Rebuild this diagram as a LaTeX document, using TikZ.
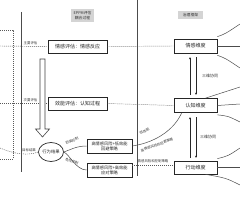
\documentclass[tikz,border=0pt]{standalone}
\usepackage{fontspec}
\setmainfont{Noto Sans CJK SC}
\usetikzlibrary{arrows.meta,shapes.geometric}
\begin{document}
\begin{tikzpicture}[x=1pt,y=-1pt,
  box/.style={draw=black!85, line width=0.7pt, fill=white, inner sep=0pt, align=center, text=black!85, font=\fontsize{5}{5.6}\selectfont},
  lab/.style={font=\fontsize{3.4}{3.8}\selectfont, text=black!80, inner sep=0.3pt},
  hdr/.style={fill=black!17, font=\fontsize{3.8}{4.8}\selectfont, inner sep=1pt, align=center, text=black!80},
  dsh/.style={draw=black!65, dash pattern=on 1pt off 1pt, line width=0.45pt},
  ln/.style={draw=black!70, line width=0.5pt},
  arr/.style={draw=black!85, line width=0.5pt, -{Stealth[length=2.4pt,width=2pt]}}]
\useasboundingbox (0,0) rectangle (240,200);
% frame lines
\draw[ln] (21,12) -- (21,172);
\draw[ln] (137,0) -- (137,176);
\draw[dsh] (0,30) -- (13,30) -- (13,159) -- (0,159);
% headers
\node[hdr, minimum width=23pt, minimum height=13pt] (h1) at (82.5,15.5) {EPPM评估\\耦合过程};
\node[hdr, minimum width=25pt, minimum height=8pt] (h2) at (190.5,15) {治理框架};
% boxes
\node[box, minimum width=59pt, minimum height=13pt] (e1) at (77.5,46.5) {情感评估：情感反应};
\node[box, minimum width=59pt, minimum height=13pt] (e2) at (77.5,103.5) {效能评估：认知过程};
\node[box, minimum width=43pt, minimum height=14pt] (d1) at (195.5,46) {情感维度};
\node[box, minimum width=43pt, minimum height=14pt] (d2) at (195.5,105.5) {认知维度};
\node[box, minimum width=43pt, minimum height=13pt] (d3) at (195.5,167.5) {行动维度};
\node[box, minimum width=45pt, minimum height=14pt, font=\fontsize{4.2}{4.9}\selectfont] (o1) at (109.5,146) {高情感风险+低效能\\回避策略};
\node[box, minimum width=45pt, minimum height=14pt, font=\fontsize{4.2}{4.9}\selectfont] (o2) at (109.5,170) {高情感风险+高效能\\应对策略};
\node[box, ellipse, minimum width=25pt, minimum height=19pt, font=\fontsize{4.3}{5}\selectfont] (ell) at (51,152) {行为结果};
% row lines
\coordinate (r1) at (0,46);
\coordinate (r2) at (0,103.5);
\draw[dsh] (r1) -- (e1.west);
\draw[dsh] (e1.east) -- (d1.west);
\draw[dsh] (r2) -- (e2.west);
\draw[dsh] (e2.east) -- (d2.west);
\node[lab] (l1) at (30.5,43) {主要评估};
\node[lab] (l2) at (30.5,100) {次要评估};
% hollow arrow
\draw[draw=black!75, line width=0.6pt, fill=white] (40,59) -- (45,59) -- (45,129) -- (49.5,129) -- (42.5,137) -- (35.5,129) -- (40,129) -- cycle;
% bottom-left dashed curve
\coordinate (lin) at (0,148);
\draw[dsh] (lin) .. controls (14,154) and (28,156) .. (ell.west);
\node[lab] (l3) at (29,150) {目标结果};
% ellipse to outcomes
\draw[ln] (ell.east) .. controls (70,150) and (76,146) .. (o1.west);
\draw[ln] (ell.east) .. controls (70,155) and (76,170) .. (o2.west);
\node[lab, rotate=22] (l4) at (72,141) {恐惧控制};
\node[lab, rotate=-22] (l5) at (72,161.5) {危险控制};
% outcomes to dimensions
\draw[ln] (o1.east) .. controls (158,142) and (175,128) .. ([xshift=8pt]d2.south west);
\node[lab, rotate=25] (l6) at (144.5,131.5) {低效能};
\node[lab, rotate=20] (l7) at (157,145) {高情感风险的回避策略};
\draw[dsh] (o2.east |- 0,165) -- (d3.west |- 0,165);
\node[lab] (l8) at (153,161.5) {情感风险和控制策略};
% synergy arrows
\draw[arr] (190,95) -- (190,57);
\draw[arr] (196,57) -- (196,95);
\node[lab, font=\fontsize{4}{4.5}\selectfont] (s1) at (210,76) {三维协同};
\draw[arr] (190,158) -- (190,117);
\draw[arr] (196,117) -- (196,158);
\node[lab, font=\fontsize{4}{4.5}\selectfont] (s2) at (208,137) {三维协同};
% right side curves
\coordinate (a1) at (240,24);
\coordinate (a2) at (240,46);
\coordinate (a3) at (240,68);
\draw[ln] ([yshift=2pt]d1.north east) .. controls (225,34) .. (a1);
\draw[ln] (d1.east) -- (a2);
\draw[ln] ([yshift=-2pt]d1.south east) .. controls (225,58) .. (a3);
\coordinate (b1) at (240,87);
\coordinate (b2) at (240,104);
\coordinate (b3) at (240,122);
\draw[ln] ([xshift=10pt]d2.north) .. controls (222,92) .. (b1);
\draw[ln] (d2.east) -- (b2);
\draw[ln] ([yshift=-2pt]d2.south east) .. controls (228,116) .. (b3);
\coordinate (c1) at (240,148);
\coordinate (c2) at (240,167.5);
\coordinate (c3) at (240,185);
\draw[ln] ([yshift=2pt]d3.north east) .. controls (228,156) .. (c1);
\draw[ln] (d3.east) -- (c2);
\draw[ln] ([xshift=10pt]d3.south) .. controls (226,178) .. (c3);
\end{tikzpicture}
\end{document}
